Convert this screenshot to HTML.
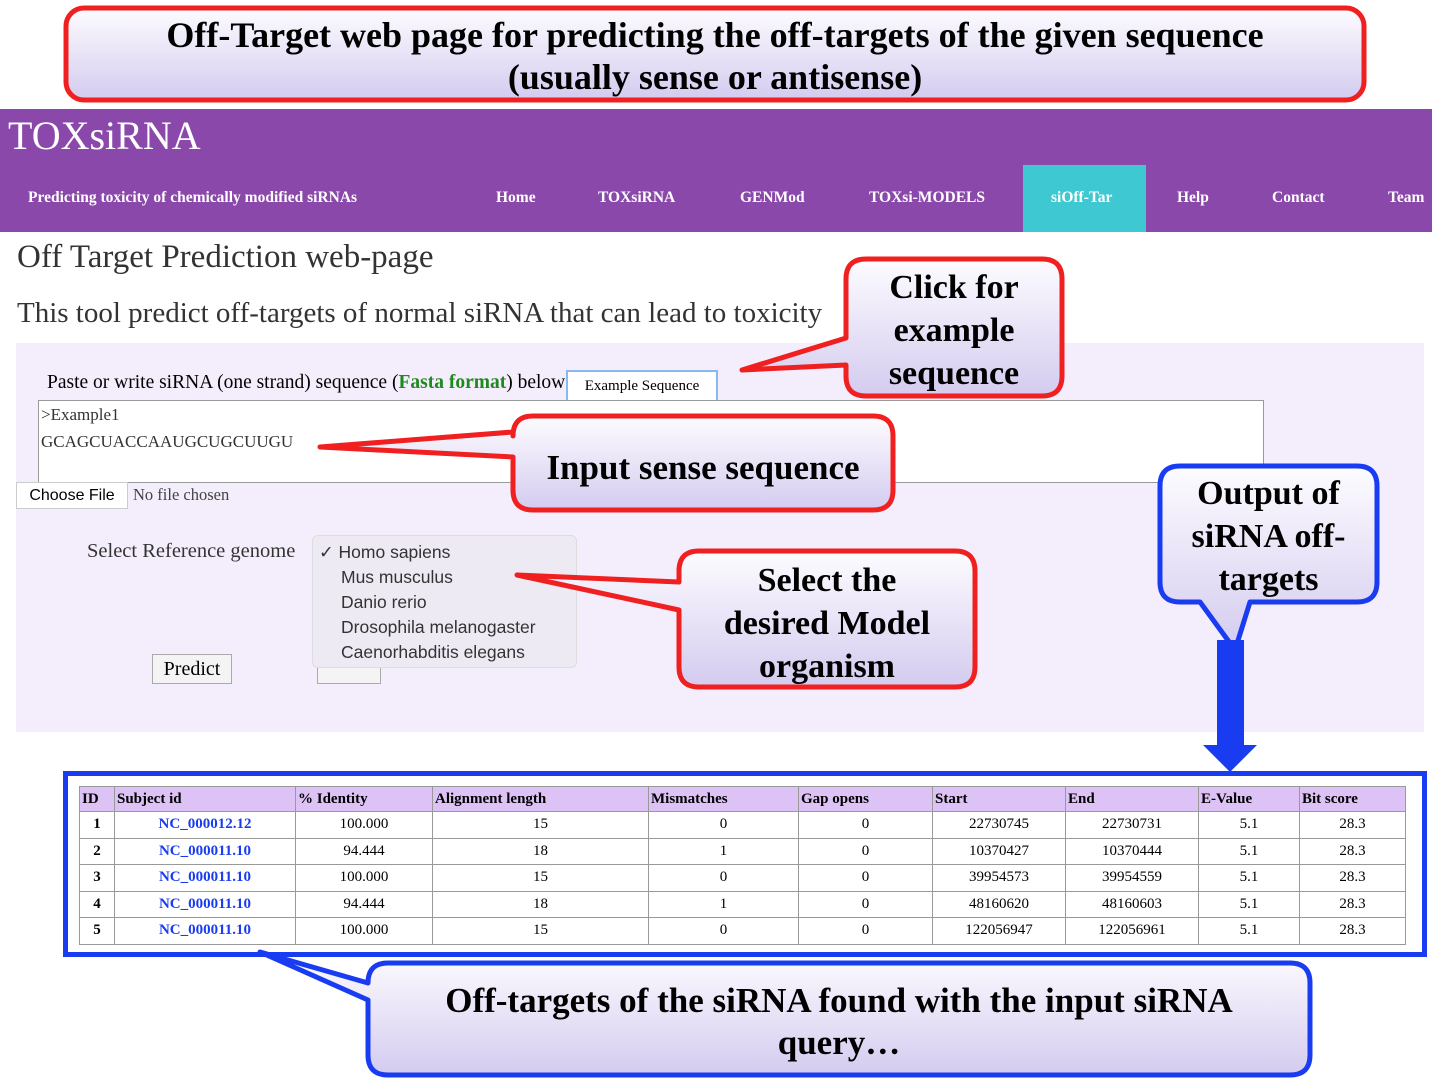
<!DOCTYPE html>
<html><head><meta charset="utf-8"><style>
body{margin:0;width:1432px;height:1079px;position:relative;background:#fff;font-family:"Liberation Serif",serif;overflow:hidden}
.a{position:absolute;white-space:nowrap}
.nav{color:#fff;font-weight:bold;font-size:15.5px;top:189px}
table{border-collapse:collapse;font-size:15px}
td,th{border:1px solid #999;height:25.5px;padding:0 2px;text-align:center}
th{background:#dcc2f5;text-align:left;font-weight:bold;height:24px}
td.l{color:#1a3cf0;font-weight:bold}
.c{font-weight:bold;font-size:34px;text-align:center;line-height:43px;color:#000}
</style></head><body>
<div class="a" style="left:0;top:109px;width:1432px;height:123px;background:#8b48ab"></div>
<div class="a" style="left:1023px;top:165px;width:123px;height:67px;background:#3ec9d2"></div>
<div class="a" style="left:8px;top:112px;font-size:40px;color:#fff">TOXsiRNA</div>
<div class="a nav" style="left:28px">Predicting toxicity of chemically modified siRNAs</div>
<div class="a nav" style="left:496px">Home</div>
<div class="a nav" style="left:598px">TOXsiRNA</div>
<div class="a nav" style="left:740px">GENMod</div>
<div class="a nav" style="left:869px">TOXsi-MODELS</div>
<div class="a nav" style="left:1051px">siOff-Tar</div>
<div class="a nav" style="left:1177px">Help</div>
<div class="a nav" style="left:1272px">Contact</div>
<div class="a nav" style="left:1388px">Team</div>
<div class="a" style="left:17px;top:239px;font-size:33px;color:#333">Off Target Prediction web-page</div>
<div class="a" style="left:17px;top:297px;font-size:29px;color:#333">This tool predict off-targets of normal siRNA that can lead to toxicity</div>
<div class="a" style="left:16px;top:343px;width:1408px;height:389px;background:#f4edfb"></div>
<div class="a" style="left:47px;top:372px;font-size:19.5px">Paste or write siRNA (one strand) sequence (<b style="color:#1e8a1e">Fasta format</b>) below:</div>
<div class="a" style="left:566px;top:370px;width:148px;height:28px;border:2px solid #8ab8f0;background:#fff;font-size:15px;line-height:28px;text-align:center">Example Sequence</div>
<div class="a" style="left:38px;top:400px;width:1224px;height:81px;border:1px solid #999;background:#fff"></div>
<div class="a" style="left:41px;top:405px;font-size:17px;color:#333">&gt;Example1</div>
<div class="a" style="left:41px;top:432px;font-size:17px;color:#333">GCAGCUACCAAUGCUGCUUGU</div>
<div class="a" style="left:16px;top:482px;width:110px;height:25px;border:1px solid #ccc;background:#fff;font-family:'Liberation Sans',sans-serif;font-size:16px;line-height:25px;text-align:center">Choose File</div>
<div class="a" style="left:133px;top:485px;font-size:16.5px;color:#444">No file chosen</div>
<div class="a" style="left:87px;top:540px;font-size:20.5px;color:#333">Select Reference genome</div>
<div class="a" style="left:152px;top:654px;width:78px;height:28px;border:1px solid #aaa;background:#f4f4f4;font-size:20px;line-height:28px;text-align:center">Predict</div>
<div class="a" style="left:317px;top:654px;width:62px;height:28px;border:1px solid #aaa;background:#f4f4f4"></div>
<div class="a" style="left:312px;top:535px;width:265px;height:133px;border:1px solid #ddd;border-radius:6px;background:#eeeaf4;font-family:'Liberation Sans',sans-serif;font-size:17.5px;line-height:25px;color:#333;padding-top:4px;box-sizing:border-box">
<div style="padding-left:6px">✓ Homo sapiens</div><div style="padding-left:28px">Mus musculus</div><div style="padding-left:28px">Danio rerio</div><div style="padding-left:28px">Drosophila melanogaster</div><div style="padding-left:28px">Caenorhabditis elegans</div></div>
<div class="a" style="left:63px;top:771px;width:1354px;height:176px;border:5px solid #1a3cf0;background:#fff"></div>
<table class="a" style="left:79px;top:786px;width:1327px">
<tr><th style="width:30px">ID</th><th style="width:176px">Subject id</th><th style="width:132px">% Identity</th><th style="width:211px">Alignment length</th><th style="width:145px">Mismatches</th><th style="width:129px">Gap opens</th><th style="width:128px">Start</th><th style="width:128px">End</th><th style="width:96px">E-Value</th><th>Bit score</th></tr>
<tr><td><b>1</b></td><td class="l">NC_000012.12</td><td>100.000</td><td>15</td><td>0</td><td>0</td><td>22730745</td><td>22730731</td><td>5.1</td><td>28.3</td></tr>
<tr><td><b>2</b></td><td class="l">NC_000011.10</td><td>94.444</td><td>18</td><td>1</td><td>0</td><td>10370427</td><td>10370444</td><td>5.1</td><td>28.3</td></tr>
<tr><td><b>3</b></td><td class="l">NC_000011.10</td><td>100.000</td><td>15</td><td>0</td><td>0</td><td>39954573</td><td>39954559</td><td>5.1</td><td>28.3</td></tr>
<tr><td><b>4</b></td><td class="l">NC_000011.10</td><td>94.444</td><td>18</td><td>1</td><td>0</td><td>48160620</td><td>48160603</td><td>5.1</td><td>28.3</td></tr>
<tr><td><b>5</b></td><td class="l">NC_000011.10</td><td>100.000</td><td>15</td><td>0</td><td>0</td><td>122056947</td><td>122056961</td><td>5.1</td><td>28.3</td></tr>
</table>
<svg class="a" style="left:0;top:0" width="1432" height="1079">
<defs><linearGradient id="g" x1="0" y1="0" x2="0" y2="1"><stop offset="0" stop-color="#fdfcff"/><stop offset="1" stop-color="#d4cbef"/></linearGradient></defs>
<g fill="url(#g)" stroke-width="5" stroke-linejoin="round">
<rect x="66" y="8" width="1298" height="92" rx="18" stroke="#f02020"/>
<path d="M866,259 H1042 Q1062,259 1062,279 V376 Q1062,396 1042,396 H866 Q846,396 846,376 V365 L742,370 L846,338 V279 Q846,259 866,259Z" stroke="#f02020"/>
<path d="M533,416 H873 Q893,416 893,436 V490 Q893,510 873,510 H533 Q513,510 513,490 V457 L320,447 L513,432 V436 Q513,416 533,416Z" stroke="#f02020"/>
<path d="M699,551 H955 Q975,551 975,571 V667 Q975,687 955,687 H699 Q679,687 679,667 V610 L517,575 L679,582 V571 Q679,551 699,551Z" stroke="#f02020"/>
<path d="M1180,466 H1357 Q1377,466 1377,486 V582 Q1377,602 1357,602 H1250 L1235,650 L1200,602 H1180 Q1160,602 1160,582 V486 Q1160,466 1180,466Z" stroke="#1a3cf0"/>
<path d="M388,963 H1290 Q1310,963 1310,983 V1055 Q1310,1075 1290,1075 H388 Q368,1075 368,1055 V1000 L260,952 L368,983 Q368,963 388,963Z" stroke="#1a3cf0"/>
</g>
<path d="M1217,640 H1244 V745 H1257 L1230,772 L1203,745 H1217Z" fill="#1a3cf0"/>
</svg>
<div class="a c" style="left:66px;top:14px;width:1298px;line-height:42px;font-size:36px">Off-Target web page for predicting the off-targets of the given sequence<br>(usually sense or antisense)</div>
<div class="a c" style="left:846px;top:266px;width:216px">Click for<br>example<br>sequence</div>
<div class="a c" style="left:513px;top:446px;width:380px;font-size:35px">Input sense sequence</div>
<div class="a c" style="left:679px;top:559px;width:296px">Select the<br>desired Model<br>organism</div>
<div class="a c" style="left:1160px;top:472px;width:217px">Output of<br>siRNA off-<br>targets</div>
<div class="a c" style="left:368px;top:980px;width:942px;line-height:42px;font-size:35px">Off-targets of the siRNA found with the input siRNA<br>query…</div>
</body></html>
